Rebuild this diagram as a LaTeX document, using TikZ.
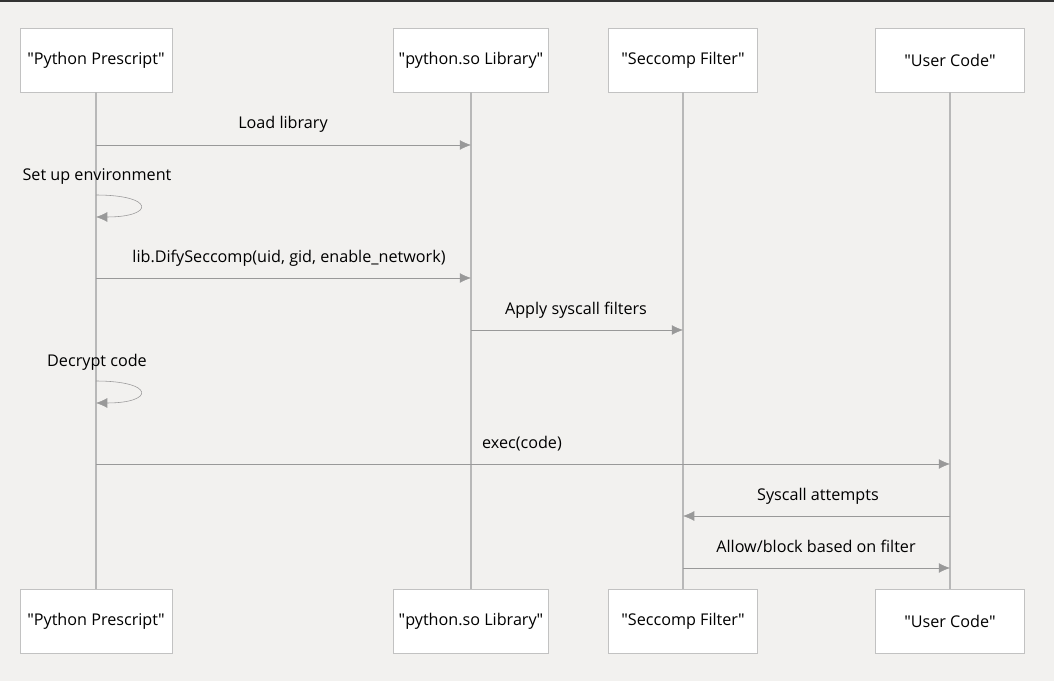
\documentclass[tikz,border=0pt]{standalone}
\usepackage{fontspec}
\setmainfont{Open Sans}
\newfontfamily\qfont{Noto Sans}
\usetikzlibrary{arrows.meta}
\definecolor{bg}{HTML}{F2F1EF}
\definecolor{ln}{HTML}{999999}
\newcommand{\q}[1]{{\qfont\symbol{34}}#1{\qfont\symbol{34}}}
\begin{document}
\begin{tikzpicture}[x=0.025cm,y=-0.025cm,
  actor/.style={draw=ln!60,fill=white,minimum height=1.6cm,inner sep=0pt,font=\fontsize{11.5}{13}\selectfont},
  msg/.style={draw=ln,-{Latex[length=8pt,width=7pt]}},
  lbl/.style={font=\fontsize{11.5}{13}\selectfont,anchor=base}]
  \fill[bg] (0,0) rectangle (1054,681);
  \fill[black!80] (0,0) rectangle (1054,2);
  \useasboundingbox (0,0) rectangle (1054,681);

  % actors, top and bottom
  \node[actor,minimum width=3.8cm] (pt) at (96,60)  {\q{Python Prescript}};
  \node[actor,minimum width=3.875cm] (lt) at (471,60) {\q{python.so Library}};
  \node[actor,minimum width=3.725cm] (st) at (683,60) {\q{Seccomp Filter}};
  \node[actor,minimum width=3.725cm] (ut) at (950,60) {\q{User Code}};
  \node[actor,minimum width=3.8cm] (pb) at (96,621)  {\q{Python Prescript}};
  \node[actor,minimum width=3.875cm] (lb) at (471,621) {\q{python.so Library}};
  \node[actor,minimum width=3.725cm] (sb) at (683,621) {\q{Seccomp Filter}};
  \node[actor,minimum width=3.725cm] (ub) at (950,621) {\q{User Code}};

  % lifelines
  \draw[ln!70,line width=1pt] (pt) -- (pb);
  \draw[ln!70,line width=1pt] (lt) -- (lb);
  \draw[ln!70,line width=1pt] (st) -- (sb);
  \draw[ln!70,line width=1pt] (ut) -- (ub);

  % messages
  \coordinate (p1) at (96,145);  \coordinate (l1) at (471,145);
  \node[lbl] at (283,129) {Load library};
  \draw[msg] (p1) -- (l1);

  \coordinate (p2) at (96,195);  \coordinate (p2e) at (96,217);
  \node[lbl] at (97,181) {Set up environment};
  \draw[msg] (p2) .. controls (155,195) and (155,217) .. (p2e);

  \coordinate (p3) at (96,278);  \coordinate (l3) at (471,278);
  \node[lbl] at (289,263) {lib.DifySeccomp(uid, gid, enable\_network)};
  \draw[msg] (p3) -- (l3);

  \coordinate (l4) at (471,330); \coordinate (s4) at (683,330);
  \node[lbl] at (576,315) {Apply syscall filters};
  \draw[msg] (l4) -- (s4);

  \coordinate (p5) at (96,381);  \coordinate (p5e) at (96,403);
  \node[lbl] at (97,367) {Decrypt code};
  \draw[msg] (p5) .. controls (155,381) and (155,403) .. (p5e);

  \coordinate (p6) at (96,464);  \coordinate (u6) at (950,464);
  \node[lbl] at (522,449) {exec(code)};
  \draw[msg] (p6) -- (u6);

  \coordinate (u7) at (950,516); \coordinate (s7) at (683,516);
  \node[lbl] at (818,501) {Syscall attempts};
  \draw[msg] (u7) -- (s7);

  \coordinate (s8) at (683,568); \coordinate (u8) at (950,568);
  \node[lbl] at (816,553) {Allow/block based on filter};
  \draw[msg] (s8) -- (u8);
\end{tikzpicture}
\end{document}
